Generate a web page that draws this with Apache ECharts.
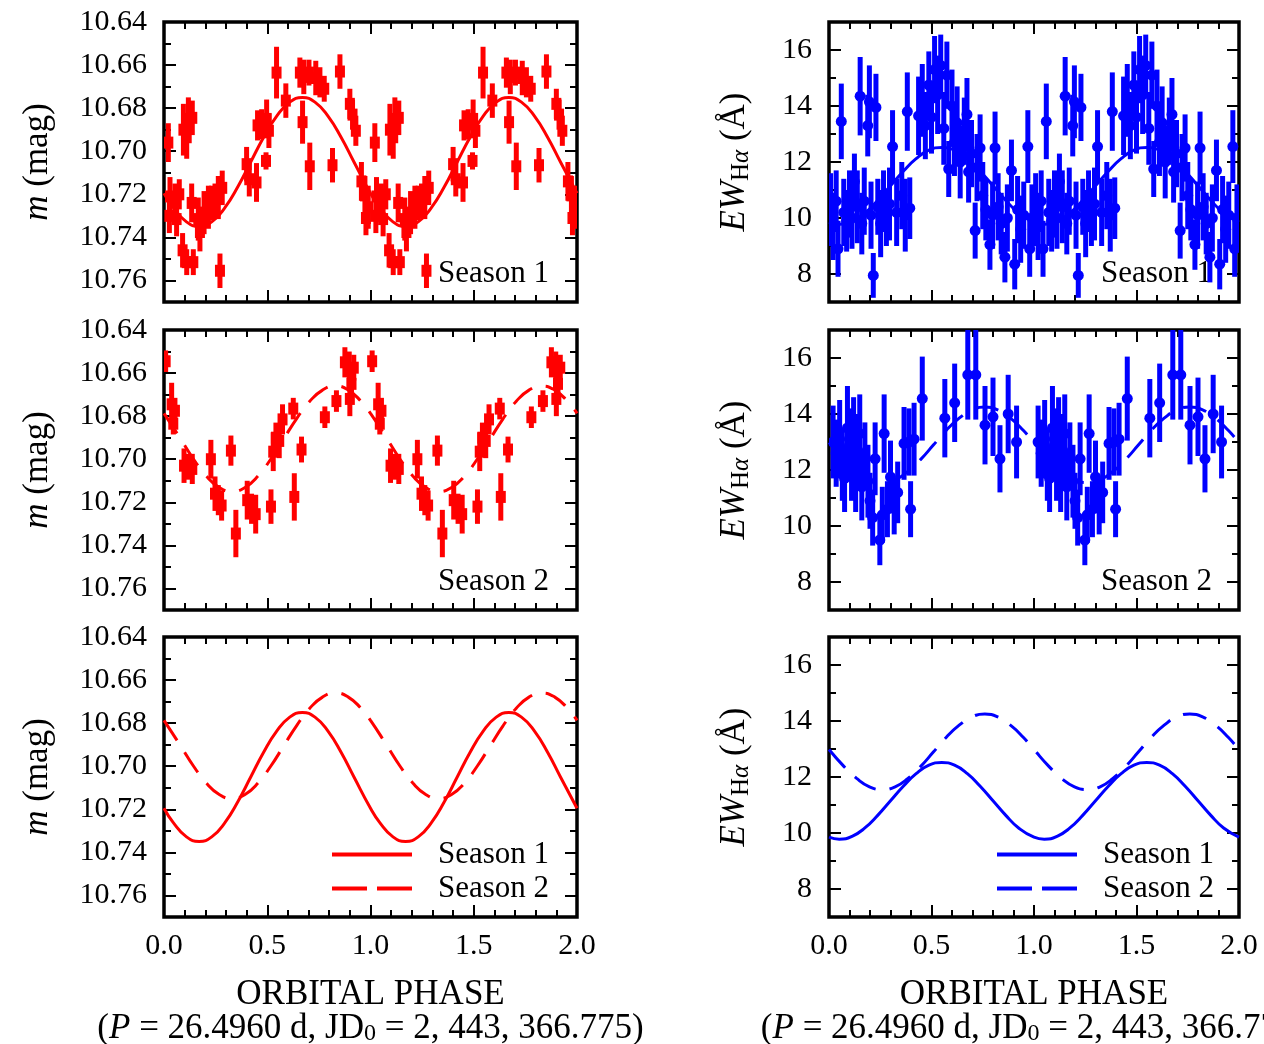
<!DOCTYPE html>
<html><head><meta charset="utf-8">
<script src="https://cdn.jsdelivr.net/npm/echarts@6/dist/echarts.min.js"></script>
<style>html,body{margin:0;padding:0;background:#fff}#c{width:1264px;height:1044px}</style>
</head><body><div id="c"></div>
<script>
// ---------- data (phase, value, error) ----------
const magS1 = [
 [0.021,10.696,0.009],[0.026,10.730,0.008],[0.029,10.721,0.009],[0.053,10.723,0.008],
 [0.061,10.7315,0.008],[0.074,10.720,0.007],[0.090,10.746,0.008],[0.094,10.690,0.012],
 [0.110,10.7515,0.006],[0.110,10.6935,0.010],[0.118,10.685,0.010],[0.134,10.724,0.009],
 [0.137,10.6845,0.008],[0.142,10.7515,0.006],[0.166,10.7315,0.010],[0.174,10.7375,0.009],
 [0.194,10.7285,0.010],[0.215,10.726,0.010],[0.231,10.724,0.008],[0.247,10.723,0.008],
 [0.263,10.7215,0.010],[0.271,10.7555,0.008],[0.282,10.717,0.008],[0.400,10.706,0.008],
 [0.413,10.713,0.008],[0.448,10.7145,0.009],[0.453,10.688,0.007],[0.473,10.6875,0.007],
 [0.494,10.7045,0.004],[0.497,10.685,0.009],[0.508,10.6905,0.008],[0.545,10.6635,0.012],
 [0.590,10.6765,0.008],[0.658,10.6635,0.007],[0.671,10.6865,0.010],[0.677,10.6655,0.008],
 [0.702,10.6635,0.006],[0.706,10.707,0.011],[0.735,10.666,0.008],[0.755,10.668,0.007],
 [0.776,10.671,0.006],[0.816,10.7065,0.008],[0.852,10.663,0.008],[0.900,10.678,0.007],
 [0.913,10.683,0.007],[0.929,10.6905,0.007],[0.956,10.714,0.009],[0.973,10.7205,0.009],
 [0.978,10.731,0.008],[0.989,10.726,0.010]
];
const magS2 = [
 [0.008,10.6545,0.005],[0.037,10.6745,0.010],[0.045,10.6835,0.005],[0.053,10.6775,0.006],
 [0.097,10.703,0.008],[0.118,10.7035,0.006],[0.137,10.7045,0.007],[0.227,10.700,0.009],
 [0.247,10.716,0.008],[0.263,10.719,0.007],[0.279,10.7215,0.007],[0.324,10.696,0.007],
 [0.348,10.7345,0.011],[0.403,10.719,0.009],[0.424,10.723,0.007],[0.444,10.7255,0.009],
 [0.518,10.722,0.008],[0.529,10.6965,0.009],[0.542,10.690,0.007],[0.558,10.6915,0.008],
 [0.574,10.6815,0.007],[0.626,10.6765,0.005],[0.631,10.7175,0.011],[0.666,10.6955,0.006],
 [0.779,10.6805,0.005],[0.835,10.673,0.005],[0.876,10.655,0.007],[0.897,10.659,0.009],
 [0.900,10.672,0.008],[0.908,10.665,0.006],[0.919,10.6575,0.006]
];
const ewS1 = [
 [0.008,10.3,1.3],[0.020,9.7,1.2],[0.035,10.6,1.1],[0.044,8.9,1.0],[0.060,13.45,1.35],
 [0.072,10.2,1.2],[0.086,9.9,1.1],[0.100,10.5,1.2],[0.112,10.0,1.1],[0.124,11.3,1.0],
 [0.138,10.4,1.3],[0.152,14.35,1.4],[0.160,9.8,1.1],[0.172,10.6,1.2],[0.189,13.3,1.1],
 [0.197,14.15,1.3],[0.205,10.1,1.2],[0.216,7.95,0.8],[0.229,13.95,1.2],[0.238,10.4,1.0],
 [0.252,9.8,1.2],[0.266,10.6,1.1],[0.280,10.0,1.0],[0.295,10.5,1.3],[0.310,12.55,1.3],
 [0.330,10.2,1.2],[0.355,10.8,1.2],[0.372,10.1,1.3],[0.382,13.8,1.4],[0.394,10.35,1.1],
 [0.437,13.65,1.4],[0.455,14.2,1.3],[0.470,13.3,1.2],[0.487,14.75,1.2],[0.500,13.6,1.3],
 [0.515,15.3,1.2],[0.530,14.4,1.4],[0.545,15.45,1.1],[0.560,13.2,1.3],[0.575,15.1,1.2],
 [0.584,11.75,1.0],[0.600,14.0,1.3],[0.612,12.7,1.2],[0.625,13.4,1.3],[0.640,12.0,1.3],
 [0.660,13.1,1.2],[0.673,13.7,1.3],[0.681,11.65,1.1],[0.695,12.3,1.2],[0.713,9.55,1.0],
 [0.722,11.8,1.2],[0.737,12.5,1.2],[0.750,10.8,1.2],[0.765,10.3,1.1],[0.785,9.05,0.9],
 [0.798,10.1,1.2],[0.810,12.5,1.3],[0.825,10.4,1.2],[0.840,9.8,1.1],[0.858,8.6,0.9],
 [0.870,10.0,1.2],[0.890,11.7,1.1],[0.906,8.35,0.9],[0.920,10.3,1.2],[0.935,9.6,1.2],
 [0.950,10.1,1.2],[0.970,12.55,1.3],[0.979,8.9,1.0],[0.990,10.0,1.2]
];
const ewS2 = [
 [0.020,13.0,1.3],[0.035,12.6,1.2],[0.052,13.1,1.4],[0.065,12.2,1.3],[0.076,11.7,1.2],
 [0.090,13.5,1.5],[0.100,12.9,1.3],[0.110,12.3,1.4],[0.120,13.2,1.4],[0.130,11.8,1.3],
 [0.140,12.7,1.3],[0.150,13.3,1.4],[0.160,11.4,1.2],[0.175,12.5,1.2],[0.190,11.6,1.3],
 [0.200,10.9,1.0],[0.213,10.3,1.0],[0.225,12.4,1.3],[0.248,9.5,0.9],[0.260,10.4,1.0],
 [0.269,13.3,1.4],[0.285,10.6,1.0],[0.300,11.75,1.3],[0.318,10.7,1.0],[0.335,11.2,1.1],
 [0.366,12.95,1.3],[0.390,13.0,1.2],[0.398,10.6,1.0],[0.415,13.1,1.3],[0.455,14.55,1.5],
 [0.565,13.85,1.4],[0.613,14.4,1.4],[0.677,15.4,1.6],[0.716,15.4,1.6],[0.761,13.6,1.4],
 [0.800,13.9,1.4],[0.834,12.4,1.2],[0.874,14.0,1.4],[0.915,13.0,1.3]
];
// fitted curves (one cycle) at the extrema and between them
const magFit1Phase = [0,0.045,0.1075,0.17,0.2325,0.295,0.3575,0.42,0.4825,0.545,0.6075,0.67,0.7325,0.795,0.8575,0.92];
const magFit1      = [10.7195,10.7262,10.7327,10.735,10.7327,10.7262,10.7165,10.705,10.6935,10.6838,10.6773,10.675,10.6773,10.6838,10.6935,10.705];
const magFit2Phase = [0,0.08,0.1425,0.205,0.2675,0.33,0.3925,0.455,0.5175,0.58,0.6425,0.705,0.7675,0.83,0.8925,0.955];
const magFit2      = [10.6787,10.6905,10.6999,10.7078,10.7131,10.715,10.7131,10.7078,10.6999,10.6905,10.6811,10.6732,10.6679,10.666,10.6679,10.6732];
const ewFit1Phase  = [0,0.05,0.1125,0.175,0.2375,0.3,0.3625,0.425,0.4875,0.55,0.6125,0.675,0.7375,0.8,0.8625,0.925];
const ewFit1       = [9.85,9.78,9.88,10.18,10.63,11.15,11.67,12.12,12.42,12.52,12.42,12.12,11.67,11.15,10.63,10.18];
const ewFit2Phase  = [0,0.0725,0.135,0.1975,0.26,0.3225,0.385,0.4475,0.51,0.5725,0.635,0.6975,0.76,0.8225,0.885,0.9475];
const ewFit2       = [12.98,12.38,11.95,11.65,11.55,11.65,11.95,12.38,12.9,13.42,13.85,14.15,14.25,14.15,13.85,13.42];
// tick values
const xMajor = [0,0.5,1,1.5,2];
const xMinor = [0.1,0.2,0.3,0.4,0.6,0.7,0.8,0.9,1.1,1.2,1.3,1.4,1.6,1.7,1.8,1.9];
const magMajor = [10.64,10.66,10.68,10.70,10.72,10.74,10.76];
const magMinor = [10.65,10.67,10.69,10.71,10.73,10.75,10.77];
const ewMajor = [8,10,12,14,16];
const ewMinor = [7,9,11,13,15,17];

// ---------- helpers ----------
const FONT = "'Liberation Serif','Times New Roman',serif";
const RED = '#ff0000', BLUE = '#0000ff';
function twoCycles(rows){ return rows.concat(rows.map(r => [r[0]+1, r[1], r[2]])); }
function curve(ph, vals){
  const one = ph.map((p,i)=>[p, vals[i]]);
  return one.concat(one.map(d=>[d[0]+1, d[1]]), [[2, vals[0]]]);
}
const panels = [
  {left:164, top:22,  width:413, kind:'mag', bottom:false},
  {left:164, top:330, width:413, kind:'mag', bottom:false},
  {left:164, top:637, width:413, kind:'mag', bottom:true},
  {left:829, top:22,  width:410, kind:'ew',  bottom:false},
  {left:829, top:330, width:410, kind:'ew',  bottom:false},
  {left:829, top:637, width:410, kind:'ew',  bottom:true}
];
const tickStyle = {color:'#000', width:2};
const xName = 'ORBITAL PHASE\n{n|(}{it|P}{n| = 26.4960 d, JD}{sub|0}{n| = 2, 443, 366.775)}';
const xNameStyle = {fontFamily:FONT, fontSize:35, color:'#000', lineHeight:34,
  rich:{n:{fontFamily:FONT,fontSize:35,color:'#000',lineHeight:34},
        it:{fontFamily:FONT,fontSize:35,fontStyle:'italic',color:'#000',lineHeight:34},
        sub:{fontFamily:FONT,fontSize:24,color:'#000',verticalAlign:'bottom',lineHeight:14}}};
const magName = '{it|m} (mag)';
const ewName = '{it|EW}{sub|H}{subit|α} (Å)';
const yNameStyle = {fontFamily:FONT, fontSize:35, color:'#000', lineHeight:38,
  rich:{it:{fontFamily:FONT,fontSize:35,fontStyle:'italic',color:'#000',lineHeight:38},
        sub:{fontFamily:FONT,fontSize:25,color:'#000',verticalAlign:'bottom',lineHeight:17},
        subit:{fontFamily:FONT,fontSize:25,fontStyle:'italic',color:'#000',verticalAlign:'bottom',lineHeight:17}}};

const grid = [], xAxis = [], yAxis = [];
panels.forEach((pn, g) => {
  grid.push({left:pn.left, top:pn.top, width:pn.width, height:280, show:true,
    borderColor:'#000', borderWidth:3.5, backgroundColor:'transparent', outerBoundsMode:'none'});
  const isMag = pn.kind === 'mag';
  const yr = isMag ? {min:10.64, max:10.77, inverse:true} : {min:7, max:17, inverse:false};
  const yMaj = isMag ? magMajor : ewMajor, yMin = isMag ? magMinor : ewMinor;
  const base = {gridIndex:g, type:'value', splitLine:{show:false}, axisLine:{show:false, onZero:false}};
  xAxis.push(Object.assign({}, base, {min:0, max:2, position:'bottom',
    axisTick:{show:true, inside:true, length:12, customValues:xMajor, lineStyle:tickStyle},
    axisLabel:{show:pn.bottom, customValues:xMajor, formatter:v=>v.toFixed(1), margin:14,
      color:'#000', fontFamily:FONT, fontSize:30},
    name: pn.bottom ? xName : '', nameLocation:'middle', nameGap:61, nameMoveOverlap:false,
    nameTextStyle:xNameStyle}));
  xAxis.push(Object.assign({}, base, {min:0, max:2, position:'bottom',
    axisTick:{show:true, inside:true, length:7, customValues:xMinor, lineStyle:tickStyle}, axisLabel:{show:false}}));
  xAxis.push(Object.assign({}, base, {min:0, max:2, position:'top',
    axisTick:{show:true, inside:true, length:12, customValues:xMajor, lineStyle:tickStyle}, axisLabel:{show:false}}));
  xAxis.push(Object.assign({}, base, {min:0, max:2, position:'top',
    axisTick:{show:true, inside:true, length:7, customValues:xMinor, lineStyle:tickStyle}, axisLabel:{show:false}}));
  yAxis.push(Object.assign({}, base, yr, {position:'left',
    axisTick:{show:true, inside:true, length:12, customValues:yMaj, lineStyle:tickStyle},
    axisLabel:{show:true, customValues:yMaj, formatter: isMag ? (v=>v.toFixed(2)) : (v=>String(Math.round(v))),
      margin:17, color:'#000', fontFamily:FONT, fontSize:30},
    name: isMag ? magName : ewName, nameLocation:'middle', nameRotate:90,
    nameGap: isMag ? 107 : 75, nameMoveOverlap:false, nameTextStyle:yNameStyle}));
  yAxis.push(Object.assign({}, base, yr, {position:'left',
    axisTick:{show:true, inside:true, length:7, customValues:yMin, lineStyle:tickStyle}, axisLabel:{show:false}}));
  yAxis.push(Object.assign({}, base, yr, {position:'right',
    axisTick:{show:true, inside:true, length:12, customValues:yMaj, lineStyle:tickStyle}, axisLabel:{show:false}}));
  yAxis.push(Object.assign({}, base, yr, {position:'right',
    axisTick:{show:true, inside:true, length:7, customValues:yMin, lineStyle:tickStyle}, axisLabel:{show:false}}));
});

function errSeries(g, rows, color, marker, lo, hi){
  return {
    type:'custom', xAxisIndex:4*g, yAxisIndex:4*g, clip:true, z:2, silent:true,
    data: twoCycles(rows),
    renderItem: function(params, api){
      const x = api.value(0), y = api.value(1), e = api.value(2);
      const a = api.coord([x, Math.max(lo, y - e)]);
      const b = api.coord([x, Math.min(hi, y + e)]);
      const c = api.coord([x, y]);
      const t = Math.min(a[1], b[1]), h = Math.abs(a[1] - b[1]);
      const kids = [{type:'rect', shape:{x:c[0]-2.5, y:t, width:5, height:h}, style:{fill:color}}];
      if (marker === 'square') kids.push({type:'rect', shape:{x:c[0]-5, y:c[1]-6, width:10, height:12}, style:{fill:color}});
      else kids.push({type:'circle', shape:{cx:c[0], cy:c[1], r:5.5}, style:{fill:color}});
      return {type:'group', children:kids};
    }
  };
}
const DASH = [24, 14];
function lineSeries(g, name, ph, vals, color, dashed){
  return {type:'line', name:name, xAxisIndex:4*g, yAxisIndex:4*g, data:curve(ph, vals), smooth:true,
    symbol:'none', silent:true, z:3, clip:true,
    lineStyle:{color:color, width:3, type: dashed ? DASH : 'solid'}, itemStyle:{color:color}};
}
const series = [
  errSeries(0, magS1, RED, 'square', 10.64, 10.77),
  lineSeries(0, 'm1a', magFit1Phase, magFit1, RED, false),
  errSeries(1, magS2, RED, 'square', 10.64, 10.77),
  lineSeries(1, 'm2a', magFit2Phase, magFit2, RED, true),
  lineSeries(2, 'm1b', magFit1Phase, magFit1, RED, false),
  lineSeries(2, 'm2b', magFit2Phase, magFit2, RED, true),
  errSeries(3, ewS1, BLUE, 'circle', 7, 17),
  lineSeries(3, 'e1a', ewFit1Phase, ewFit1, BLUE, false),
  errSeries(4, ewS2, BLUE, 'circle', 7, 17),
  lineSeries(4, 'e2a', ewFit2Phase, ewFit2, BLUE, true),
  lineSeries(5, 'e1b', ewFit1Phase, ewFit1, BLUE, false),
  lineSeries(5, 'e2b', ewFit2Phase, ewFit2, BLUE, true)
];
const legendLabels = {m1b:'Season 1', m2b:'Season 2', e1b:'Season 1', e2b:'Season 2'};
function legendAt(left, names){
  return {orient:'vertical', left:left, top:834, itemWidth:80, itemHeight:20, itemGap:3, selectedMode:false,
    itemStyle:{opacity:0, borderWidth:0},
    lineStyle:{width:4},
    data:[{name:names[0]}, {name:names[1], lineStyle:{type:[35,10], width:4}}],
    formatter: n => legendLabels[n],
    textStyle:{fontFamily:FONT, fontSize:31, color:'#000', lineHeight:29, padding:[0,0,0,21]}};
}
function seasonText(left, top, txt){
  return {type:'text', left:left, top:top, z:0, silent:true,
    style:{text:txt, fontFamily:FONT, fontSize:31, fill:'#000'}};
}
const chart = echarts.init(document.getElementById('c'), null, {renderer:'canvas'});
chart.setOption({
  backgroundColor:'#fff', animation:false,
  grid:grid, xAxis:xAxis, yAxis:yAxis, series:series,
  legend:[legendAt(325, ['m1b','m2b']), legendAt(990, ['e1b','e2b'])],
  graphic:[seasonText(438,258,'Season 1'), seasonText(438,566,'Season 2'),
           seasonText(1101,258,'Season 1'), seasonText(1101,566,'Season 2')]
});
</script></body></html>
